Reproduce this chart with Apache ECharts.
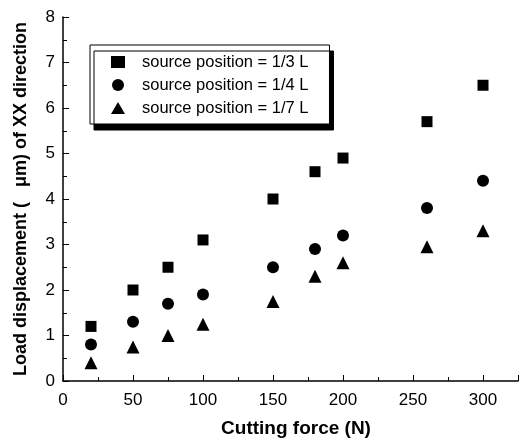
<!DOCTYPE html>
<html>
<head>
<meta charset="utf-8">
<script src="https://cdn.jsdelivr.net/npm/echarts@6/dist/echarts.min.js"></script>
<style>
  html, body { margin: 0; padding: 0; background: #fff; }
  #chart { width: 521px; height: 443px; }
</style>
</head>
<body>
<div id="chart"></div>
<script>
// cutting force (N)
const force = [20, 50, 75, 100, 150, 180, 200, 260, 300];
// load displacement (um) for each source position
const pos13 = [1.2, 2.0, 2.5, 3.1, 4.0, 4.6, 4.9, 5.7, 6.5];
const pos14 = [0.8, 1.3, 1.7, 1.9, 2.5, 2.9, 3.2, 3.8, 4.4];
const pos17 = [0.4, 0.75, 1.0, 1.25, 1.75, 2.3, 2.6, 2.95, 3.3];
const names = ["source position = 1/3 L", "source position = 1/4 L", "source position = 1/7 L"];

const font = "Liberation Sans, Arial, sans-serif";

function pairs(ys) {
  return force.map((x, i) => [x, ys[i]]);
}

const chart = echarts.init(document.getElementById("chart"));
chart.setOption({
  animation: false,
  grid: { left: 63, right: 1, top: 17, bottom: 60 },
  legend: {
    left: 90,
    top: 45,
    orient: "vertical",
    itemGap: 5,
    itemWidth: 14,
    itemHeight: 12,
    padding: [8, 21, 7, 21],
    backgroundColor: "#fff",
    borderColor: "#000",
    borderWidth: 1,
    borderRadius: 0,
    shadowColor: "#000",
    shadowBlur: 0,
    shadowOffsetX: 4,
    shadowOffsetY: 6,
    textStyle: { fontFamily: font, fontSize: 16.5, lineHeight: 18, color: "#000", padding: [0, 0, 0, 12] },
    data: names
  },
  xAxis: {
    type: "value",
    min: 0,
    max: 325,
    interval: 50,
    name: "Cutting force (N)",
    nameLocation: "middle",
    nameGap: 38,
    nameTextStyle: { fontFamily: font, fontSize: 19, fontWeight: "bold", color: "#000", padding: [0, 0, 0, 11] },
    axisLine: { lineStyle: { color: "#000", width: 1.5 } },
    axisTick: { inside: true, length: 6, lineStyle: { color: "#000" } },
    minorTick: { show: true, splitNumber: 2, length: 4, lineStyle: { color: "#000" } },
    axisLabel: {
      fontFamily: font, fontSize: 17, color: "#000", margin: 11,
      formatter: v => (v % 50 === 0 ? String(v) : "")
    },
    splitLine: { show: false }
  },
  yAxis: {
    type: "value",
    min: 0,
    max: 8,
    interval: 1,
    name: "Load displacement (   \u03bcm) of XX direction",
    nameLocation: "middle",
    nameGap: 33,
    nameTextStyle: { fontFamily: font, fontSize: 18, fontWeight: "bold", color: "#000" },
    axisLine: { show: true, lineStyle: { color: "#000", width: 1.5 } },
    axisTick: { show: true, inside: true, length: 6, lineStyle: { color: "#000" } },
    minorTick: { show: true, splitNumber: 2, length: 4, lineStyle: { color: "#000" } },
    axisLabel: { fontFamily: font, fontSize: 17, color: "#000", margin: 8 },
    splitLine: { show: false }
  },
  series: [
    { name: names[0], type: "scatter", symbol: "rect", symbolSize: 11, itemStyle: { color: "#000", opacity: 1 }, data: pairs(pos13) },
    { name: names[1], type: "scatter", symbol: "circle", symbolSize: 12, itemStyle: { color: "#000", opacity: 1 }, data: pairs(pos14) },
    { name: names[2], type: "scatter", symbol: "triangle", symbolSize: 13, itemStyle: { color: "#000", opacity: 1 }, data: pairs(pos17) }
  ]
});
</script>
</body>
</html>
